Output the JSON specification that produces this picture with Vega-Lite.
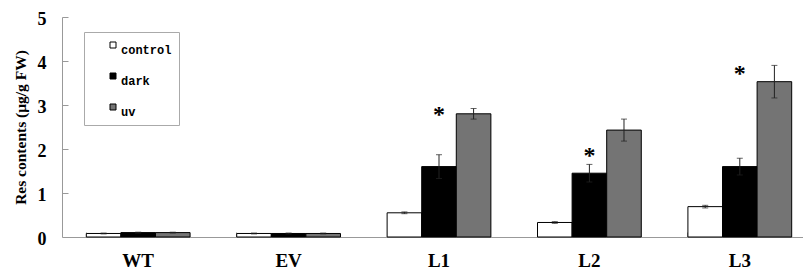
{
  "$schema": "https://vega.github.io/schema/vega-lite/v6.json",
  "width": 741,
  "height": 220,
  "autosize": {"type": "none"},
  "padding": {"left": 62, "top": 17, "right": 0, "bottom": 36},
  "config": {"view": {"stroke": null}},
  "data": {"values": [
    {"group": "WT", "treat": "control", "value": 0.08, "lo": 0.07, "hi": 0.09},
    {"group": "WT", "treat": "dark", "value": 0.1, "lo": 0.09, "hi": 0.11},
    {"group": "WT", "treat": "uv", "value": 0.1, "lo": 0.09, "hi": 0.11},
    {"group": "EV", "treat": "control", "value": 0.08, "lo": 0.07, "hi": 0.09},
    {"group": "EV", "treat": "dark", "value": 0.08, "lo": 0.07, "hi": 0.09},
    {"group": "EV", "treat": "uv", "value": 0.08, "lo": 0.07, "hi": 0.09},
    {"group": "L1", "treat": "control", "value": 0.55, "lo": 0.53, "hi": 0.57},
    {"group": "L1", "treat": "dark", "value": 1.6, "lo": 1.33, "hi": 1.87, "star": 2.9},
    {"group": "L1", "treat": "uv", "value": 2.8, "lo": 2.68, "hi": 2.92},
    {"group": "L2", "treat": "control", "value": 0.33, "lo": 0.31, "hi": 0.35},
    {"group": "L2", "treat": "dark", "value": 1.45, "lo": 1.25, "hi": 1.65, "star": 1.97},
    {"group": "L2", "treat": "uv", "value": 2.43, "lo": 2.18, "hi": 2.68},
    {"group": "L3", "treat": "control", "value": 0.69, "lo": 0.66, "hi": 0.72},
    {"group": "L3", "treat": "dark", "value": 1.6, "lo": 1.41, "hi": 1.79, "star": 3.85},
    {"group": "L3", "treat": "uv", "value": 3.53, "lo": 3.16, "hi": 3.9}
  ]},
  "encoding": {
    "x": {
      "field": "group", "type": "nominal", "sort": ["WT", "EV", "L1", "L2", "L3"],
      "scale": {"range": [1, 753], "paddingInner": 0.31, "paddingOuter": 0.155},
      "axis": {
        "title": null, "labelAngle": 0, "bandPosition": 0, "tickSize": -5,
        "domainColor": "#999", "tickColor": "#999",
        "labelFont": "Liberation Serif", "labelFontWeight": "bold", "labelFontSize": 19,
        "labelColor": "black", "labelPadding": 19
      }
    },
    "xOffset": {"field": "treat", "type": "nominal", "sort": ["control", "dark", "uv"], "scale": {"paddingInner": 0, "paddingOuter": 0}}
  },
  "layer": [
    {
      "mark": {"type": "bar", "stroke": "black", "strokeWidth": 1},
      "encoding": {
        "y": {
          "field": "value", "type": "quantitative",
          "scale": {"domain": [0, 5], "nice": false},
          "axis": {
            "title": "Res contents (μg/g FW)", "values": [0, 1, 2, 3, 4, 5], "grid": false,
            "tickSize": -6, "domainColor": "#999", "tickColor": "#999",
            "labelFont": "Liberation Serif", "labelFontWeight": "bold", "labelFontSize": 18,
            "labelColor": "black", "labelPadding": 22, "labelBaseline": "middle", "labelOffset": 2,
            "titleFont": "Liberation Serif", "titleFontWeight": "bold", "titleFontSize": 15.5,
            "titleColor": "black", "titlePadding": 9
          }
        },
        "fill": {
          "field": "treat", "type": "nominal",
          "scale": {"domain": ["control", "dark", "uv"], "range": ["white", "black", "#747474"]},
          "legend": {
            "title": null, "orient": "none", "legendX": 22, "legendY": 15,
            "strokeColor": "#aaa", "padding": 7, "rowPadding": 14,
            "symbolType": "square", "symbolSize": 36, "symbolStrokeColor": "black", "symbolStrokeWidth": 1,
            "symbolOffset": 16, "labelOffset": 2, "labelBaseline": "top",
            "labelFont": "Liberation Mono", "labelFontWeight": "bold", "labelFontSize": 12, "labelColor": "black",
            "labelExpr": "datum.label + '\u00a0\u00a0\u00a0'"
          }
        }
      }
    },
    {
      "mark": {"type": "rule", "color": "#222", "strokeWidth": 1},
      "encoding": {"y": {"field": "lo", "type": "quantitative"}, "y2": {"field": "hi"}}
    },
    {
      "mark": {"type": "tick", "color": "#222", "thickness": 1, "size": 6},
      "encoding": {"y": {"field": "hi", "type": "quantitative"}}
    },
    {
      "mark": {"type": "tick", "color": "#222", "thickness": 1, "size": 6},
      "encoding": {"y": {"field": "lo", "type": "quantitative"}}
    },
    {
      "transform": [{"filter": "isValid(datum.star)"}],
      "mark": {"type": "text", "text": "*", "font": "Liberation Serif", "fontWeight": "bold", "fontSize": 24, "baseline": "middle", "dy": 6},
      "encoding": {"y": {"field": "star", "type": "quantitative"}}
    }
  ]
}
